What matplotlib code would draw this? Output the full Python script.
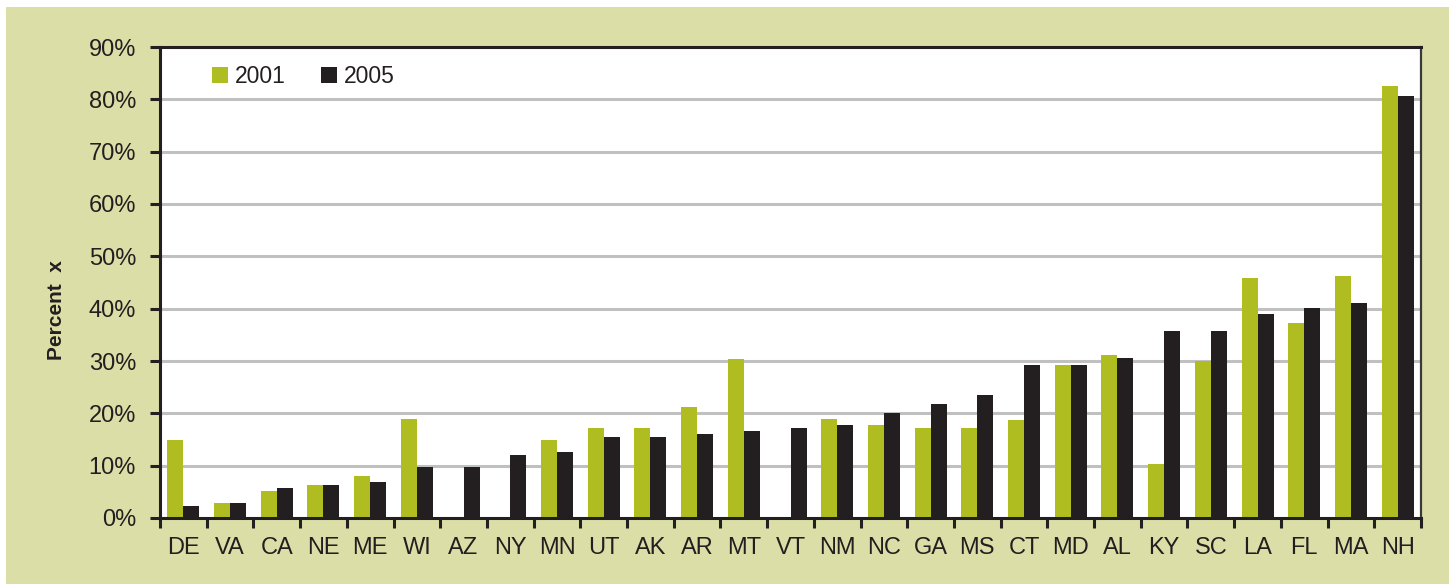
import matplotlib
matplotlib.use("Agg")
import matplotlib.pyplot as plt
from matplotlib.patches import Rectangle
from matplotlib import font_manager
import numpy as np

states = ["DE", "VA", "CA", "NE", "ME", "WI", "AZ", "NY", "MN", "UT", "AK", "AR", "MT", "VT",
          "NM", "NC", "GA", "MS", "CT", "MD", "AL", "KY", "SC", "LA", "FL", "MA", "NH"]
v2001 = [14.9, 2.9, 5.2, 6.3, 8.0, 18.9, 0, 0, 14.9, 17.2, 17.2, 21.2, 30.4, 0,
         18.9, 17.8, 17.2, 17.2, 18.8, 29.3, 31.1, 10.4, 30.0, 45.8, 37.2, 46.3, 82.5]
v2005 = [2.3, 2.9, 5.7, 6.3, 6.9, 9.8, 9.8, 12.0, 12.6, 15.5, 15.5, 16.1, 16.6, 17.2,
         17.8, 20.1, 21.8, 23.5, 29.3, 29.3, 30.5, 35.7, 35.7, 38.9, 40.1, 41.1, 80.7]
yticks = list(range(0, 91, 10))
series_names = ["2001", "2005"]

GREEN = "#afbd21"
BLACK = "#231f20"
KHAKI = "#dbdfa7"
GRID = "#c0c0c0"

names = {f.name for f in font_manager.fontManager.ttflist}
fam = [n for n in ["Liberation Sans Narrow", "Liberation Sans", "DejaVu Sans"] if n in names]
plt.rcParams["font.family"] = fam

W, H = 1449, 584
fig = plt.figure(figsize=(W / 100, H / 100), dpi=100)
fig.patch.set_facecolor("white")
bg = Rectangle((6 / W, 0), 1 - 6 / W, (H - 7) / H, transform=fig.transFigure,
               facecolor=KHAKI, edgecolor="none", zorder=-10)
fig.patches.append(bg)

ax = fig.add_axes([160 / W, (H - 518) / H, 1261 / W, 471 / H])
ax.set_zorder(1)
ax.set_facecolor("white")

x = np.arange(len(states))
bw = 0.343
ax.bar(x - bw / 2, v2001, bw, color=GREEN, label=series_names[0], zorder=3)
ax.bar(x + bw / 2, v2005, bw, color=BLACK, label=series_names[1], zorder=3)

ax.set_xlim(-0.5, len(states) - 0.5)
ax.set_ylim(0, 90)
ax.set_yticks(yticks)
ax.set_yticklabels([f"{t}%" for t in yticks])
for t in yticks[1:-1]:
    ax.axhline(t, color=GRID, lw=2.2, zorder=1)

ax.set_xticks(x)
ax.set_xticklabels(states)
ax.set_xticks(np.arange(-0.5, len(states)), minor=True)
ax.tick_params(axis="x", which="major", length=0, pad=13.5, labelsize=17, labelcolor="#231f20")
ax.tick_params(axis="x", which="minor", length=7.2, width=2.2, color=BLACK, direction="out")
ax.tick_params(axis="y", length=7.2, width=2.2, color=BLACK, direction="out", pad=10,
               labelsize=17, labelcolor="#231f20")

for s in ["left", "top", "bottom"]:
    ax.spines[s].set_color(BLACK)
    ax.spines[s].set_linewidth(2.2)
ax.spines["right"].set_color("#3a3a3a")
ax.spines["right"].set_linewidth(1.6)
for s in ax.spines.values():
    s.set_zorder(5)

fig.text(57 / W, 1 - 310 / H, "Percent  x", rotation=90, ha="center", va="center",
         fontsize=15, fontweight="bold", color="#231f20")

leg = ax.legend(loc="upper left", bbox_to_anchor=((212 - 160) / 1261, (518 - 65) / 471),
                ncol=2, frameon=False, fontsize=16.5, handlelength=0.7, handleheight=0.7,
                handletextpad=0.3, columnspacing=1.55, borderpad=0, borderaxespad=0)
for t in leg.get_texts():
    t.set_color("#231f20")

fig.savefig("out.png", dpi=100, facecolor=fig.get_facecolor())
